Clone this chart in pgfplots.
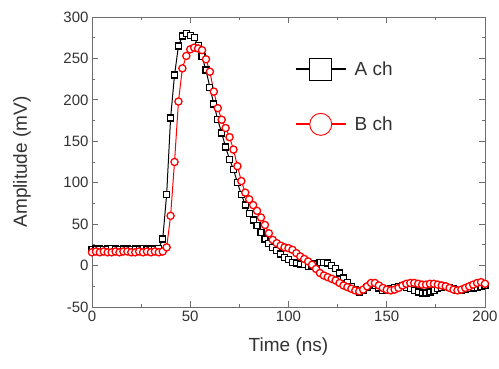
\documentclass[border=0pt]{standalone}
\usepackage{fontspec}
\setmainfont{Liberation Sans}
\usepackage{pgfplots}
\usepackage{pgfplotstable}
\pgfplotsset{compat=1.18}
\definecolor{axgray}{RGB}{110,110,110}
\definecolor{txtgray}{RGB}{50,50,50}
\pgfplotsset{biglegend/.style={legend image code/.code={\draw[##1, mark size=11pt, mark repeat=2, mark phase=2, line width=1.8pt, mark options={fill=white, line width=0.9pt}] plot coordinates {(0pt,0pt) (25pt,0pt) (50pt,0pt)};}}}
\pgfplotstableread{
x A B
0 19 16
2 20 17
4 20 16
6 19 17
8 20 16
10 21 16
12 20 17
14 19 16
16 20 17
18 20 17
20 19 16
22 20 16
24 20 17
26 21 16
28 19 17
30 20 16
32 20 17
34 21 16
36 32 17
38 86 22
40 178 60
42 230 125
44 265 198
46 277 238
48 280 253
50 278 261
52 275 263
54 266 262
56 252 260
58 236 249
60 215 234
62 195 210
64 176 190
66 160 176
68 143 166
70 128 155
72 116 140
74 100 120
76 86 102
78 73 88
80 63 80
82 55 73
84 48 66
86 40 58
88 32 49
90 27 39
92 22 31
94 18 27
96 14 24
98 10 22
100 7 21
102 4 19
104 3 15
106 2 11
108 1 8
110 -1 5
112 0 1
114 2 -4
116 4 -9
118 4 -12
120 3 -14
122 0 -16
124 -4 -18
126 -9 -21
128 -15 -24
130 -20 -26
132 -25 -28
134 -29 -30
136 -32 -31
138 -30 -29
140 -26 -25
142 -23 -21
144 -24 -21
146 -27 -24
148 -30 -27
150 -30 -29
152 -28 -30
154 -26 -29
156 -25 -27
158 -24 -24
160 -26 -22
162 -28 -21
164 -30 -21
166 -32 -22
168 -33 -23
170 -33 -23
172 -32 -22
174 -30 -22
176 -28 -23
178 -26 -24
180 -25 -25
182 -26 -27
184 -28 -29
186 -30 -30
188 -30 -29
190 -29 -27
192 -28 -25
194 -27 -23
196 -26 -21
198 -25 -20
200 -24 -22
}\datatable
\begin{document}
\begin{tikzpicture}
\begin{axis}[
  scale only axis,
  width=393pt, height=290pt,
  xmin=0, xmax=200, ymin=-50, ymax=300,
  xtick={0,50,...,200}, ytick={-50,0,...,300},
  minor x tick num=1, minor y tick num=1,
  tick align=inside,
  major tick length=6pt, minor tick length=3pt,
  axis line style={axgray, line width=0.8pt},
  every tick/.style={axgray, line width=0.8pt},
  /pgf/number format/assume math mode=true,
  tick label style={font=\fontsize{15}{18}\selectfont, text=txtgray},
  label style={font=\fontsize{19}{22}\selectfont, text=txtgray},
  xlabel={Time (ns)},
  ylabel={Amplitude (mV)},
  xlabel style={at={(axis description cs:0.5,-0.135)}, anchor=center},
  ylabel style={at={(axis description cs:-0.178,0.5)}, anchor=center},
  legend style={at={(rel axis cs:0.508,0.865)}, anchor=north west, draw=none, fill=none,
    font=\fontsize{19}{22}\selectfont, row sep=33pt, text=txtgray},
  legend cell align=left,
  biglegend,
]
\addplot[black, line width=1pt, mark=square*, mark size=3pt,
  mark options={fill=white, line width=1.2pt}]
  table[x=x, y=A] {\datatable};
\addlegendentry{\hspace{6pt}A ch}
\addplot[red, line width=1pt, mark=*, mark size=3.6pt,
  mark options={fill=white, line width=1.3pt}]
  table[x=x, y=B] {\datatable};
\addlegendentry{\hspace{6pt}B ch}
\coordinate (o) at (rel axis cs:0,0);
\coordinate (t) at (rel axis cs:1,1);
\end{axis}
\pgfresetboundingbox
\path[use as bounding box] ([xshift=-92pt,yshift=-62pt]o) rectangle ([xshift=14pt,yshift=17pt]t);
\end{tikzpicture}
\end{document}
